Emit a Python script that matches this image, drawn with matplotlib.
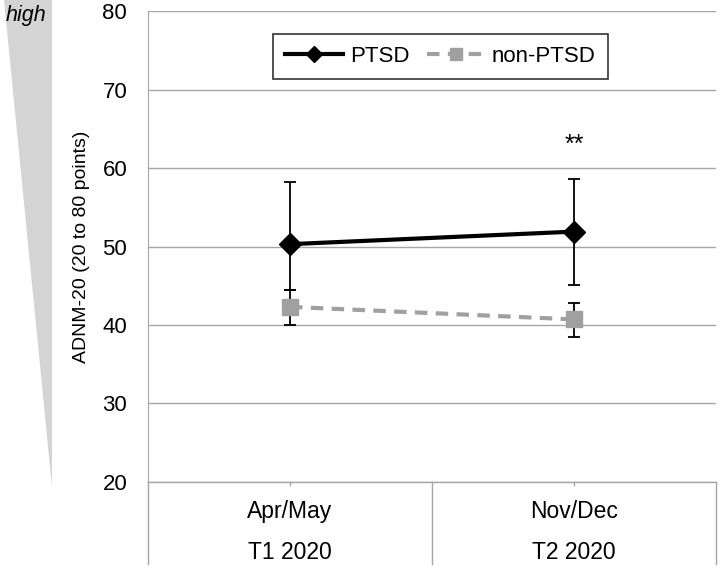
import matplotlib.pyplot as plt
from matplotlib.lines import Line2D
from matplotlib.patches import Polygon

plt.rcParams["font.family"] = ["Liberation Sans", "DejaVu Sans"]

# data
periods = ["Apr/May", "Nov/Dec"]
waves = ["T1 2020", "T2 2020"]
ptsd_mean = [50.3, 51.9]
ptsd_upper = [58.2, 58.6]
ptsd_lower = [44.5, 45.1]
non_mean = [42.3, 40.7]
non_upper = [44.5, 42.8]
non_lower = [40.0, 38.4]
sig_marks = ["", "**"]

x = list(range(len(periods)))

fig = plt.figure(figsize=(7.2, 5.68), dpi=100)
ax = fig.add_axes([0.2056, 0.152, 0.7888, 0.828])

# gridlines
ax.set_ylim(20, 80)
ax.set_xlim(-0.5, len(periods) - 0.5)
ax.set_yticks(range(20, 81, 10))
ax.yaxis.grid(True, color="#a6a6a6", lw=1)
ax.set_axisbelow(True)
for s in ["top", "right", "bottom"]:
    ax.spines[s].set_visible(False)
ax.spines["left"].set_color("#a6a6a6")
ax.tick_params(axis="y", length=0, labelsize=16, pad=15)
ax.tick_params(axis="x", length=0)
ax.set_xticks([])

# error bars
ptsd_err = [[m - l for m, l in zip(ptsd_mean, ptsd_lower)], [u - m for m, u in zip(ptsd_mean, ptsd_upper)]]
non_err = [[m - l for m, l in zip(non_mean, non_lower)], [u - m for m, u in zip(non_mean, non_upper)]]
ax.errorbar(x, non_mean, yerr=non_err, fmt="none", ecolor="black", elinewidth=1.3, capsize=4, capthick=1.3, zorder=3)
ax.errorbar(x, ptsd_mean, yerr=ptsd_err, fmt="none", ecolor="black", elinewidth=1.3, capsize=4, capthick=1.3, zorder=3)

# lines
ax.plot(x, non_mean, color="#a0a0a0", lw=3, ls=(0, (3, 2)), marker="s", ms=11.5, mec="#a0a0a0", mfc="#a0a0a0",
        label="non-PTSD", zorder=4)
ax.plot(x, ptsd_mean, color="black", lw=3, marker="D", ms=11, label="PTSD", zorder=5)

for xi, m in zip(x, sig_marks):
    if m:
        ax.text(xi, 63.0, m, ha="center", va="center", fontsize=18)

h, l = ax.get_legend_handles_labels()
leg = ax.legend(h[::-1], l[::-1], loc="upper center", bbox_to_anchor=(0.515, 0.976), ncol=2, fontsize=16,
                frameon=True, fancybox=False, edgecolor="black", handlelength=2.6, columnspacing=0.8,
                handletextpad=0.3, borderpad=0.55, markerscale=0.75)
leg.get_frame().set_linewidth(1.2)

ax.set_ylabel("ADNM-20 (20 to 80 points)", fontsize=14, labelpad=9)

# category axis with separators
ax.plot([0, 1], [0, 0], transform=ax.transAxes, color="#a6a6a6", lw=1, clip_on=False)
for xs in [0.0, 0.5, 1.0]:
    ax.add_line(Line2D([xs, xs], [0, -0.175], transform=ax.transAxes, color="#a6a6a6", lw=1, clip_on=False))
for xi in x:
    ax.add_line(Line2D([(xi + 0.5) / len(periods)] * 2, [0, -0.008], transform=ax.transAxes,
                       color="#a6a6a6", lw=1, clip_on=False))
for xi, p, w in zip(x, periods, waves):
    ax.text(xi, 16.2, p, ha="center", va="center", fontsize=16.5, clip_on=False)
    ax.text(xi, 10.9, w, ha="center", va="center", fontsize=16.5, clip_on=False)

# wedge at the left
wedge = Polygon([[4, 568], [52, 568], [52, 81]], closed=True, facecolor="#d4d4d4", edgecolor="none",
                transform=None)
fig.patches.append(wedge)
fig.text(6 / 720, 1 - 15 / 568, "high", fontsize=15.5, style="italic", ha="left", va="center")

fig.savefig("out.png", dpi=100)
